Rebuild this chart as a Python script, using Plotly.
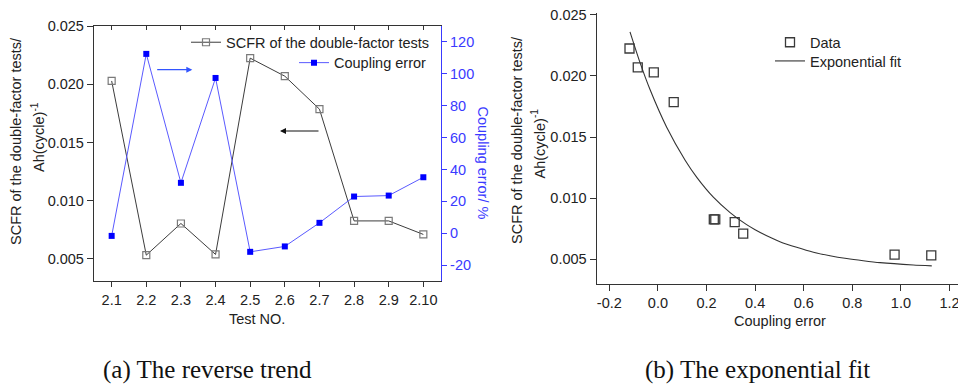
import plotly.graph_objects as go

W, H = 958, 387

# ---------------- data ----------------
test_no = ["2.1", "2.2", "2.3", "2.4", "2.5", "2.6", "2.7", "2.8", "2.9", "2.10"]
scfr = [0.02028, 0.00532, 0.00804, 0.00538, 0.02224, 0.02069, 0.01786, 0.00826, 0.00826, 0.00710]
coupling_error_pct = [-1.7, 112.5, 31.6, 97.4, -11.7, -8.3, 6.5, 23.0, 23.6, 35.1]
coupling_error_frac = [v / 100.0 for v in coupling_error_pct]

fit_x = [-0.115, -0.074, -0.033, 0.036, 0.112, 0.160, 0.228, 0.297, 0.365, 0.400,
         0.468, 0.502, 0.571, 0.640, 0.708, 0.777, 0.845, 0.914, 1.051, 1.127]
fit_y = [0.02360, 0.02110, 0.01890, 0.01580, 0.01310, 0.01170, 0.01008, 0.00882, 0.00783, 0.00742,
         0.00673, 0.00644, 0.00598, 0.00558, 0.00529, 0.00506, 0.00488, 0.00472, 0.00453, 0.00446]

scfr_ticks = [0.005, 0.010, 0.015, 0.020, 0.025]
scfr_ticktext = ["0.005", "0.010", "0.015", "0.020", "0.025"]
ce_ticks = [-20, 0, 20, 40, 60, 80, 100, 120]
ce_ticktext = ["-20", "0", "20", "40", "60", "80", "100", "120"]
cex_ticks = [-0.2, 0.0, 0.2, 0.4, 0.6, 0.8, 1.0, 1.2]
cex_ticktext = ["-0.2", "0.0", "0.2", "0.4", "0.6", "0.8", "1.0", "1.2"]


def X(px):
    return px / W


def Y(py):
    return 1 - py / H


FONT = "Arial, Liberation Sans, sans-serif"
FS = 14.5
AX = "#333333"
BLUE = "#3a3aff"

fig = go.Figure()

# ---------- left plot ----------
fig.add_trace(go.Scatter(
    x=test_no, y=scfr, mode="lines+markers", name="SCFR of the double-factor tests",
    line=dict(color="#3c3c3c", width=1),
    marker=dict(symbol="square-open", size=7, color="#7a7a7a", line=dict(width=1.2)),
    xaxis="x", yaxis="y", legend="legend", hoverinfo="skip"))
fig.add_trace(go.Scatter(
    x=test_no, y=coupling_error_pct, mode="lines+markers", name="Coupling error",
    line=dict(color="#5a5aff", width=1),
    marker=dict(symbol="square", size=6, color="#0000ff"),
    xaxis="x", yaxis="y2", legend="legend2", hoverinfo="skip"))
# dummy trace to create the top mirror axis
fig.add_trace(go.Scatter(
    x=test_no, y=scfr, mode="markers", opacity=0, showlegend=False,
    xaxis="x3", yaxis="y", hoverinfo="skip"))

# ---------- right plot ----------
fig.add_trace(go.Scatter(
    x=coupling_error_frac, y=scfr, mode="markers", name="Data",
    marker=dict(symbol="square-open", size=9, color="#3a3a3a", line=dict(width=1.3)),
    xaxis="x2", yaxis="y3", legend="legend3", hoverinfo="skip"))
fig.add_trace(go.Scatter(
    x=fit_x, y=fit_y, mode="lines", name="Exponential fit",
    line=dict(color="#333333", width=1.1, shape="spline", smoothing=0.6),
    xaxis="x2", yaxis="y3", legend="legend4", hoverinfo="skip"))

axis_common = dict(showgrid=False, zeroline=False, showline=True, linecolor=AX, linewidth=1.3,
                   tickcolor=AX, tickwidth=1.3, automargin=False, ticklabeloverflow="allow",
                   tickfont=dict(family=FONT, size=FS, color="#222"))

left_dom_x = [X(94), X(441)]
left_dom_y = [Y(281), Y(26)]
right_dom_x = [X(596.7), 1.0]
right_dom_y = [Y(283.7), Y(13.3)]

fig.update_layout(
    width=W, height=H, margin=dict(l=0, r=0, t=0, b=0, autoexpand=False),
    paper_bgcolor="white", plot_bgcolor="rgba(0,0,0,0)",
    font=dict(family=FONT, size=FS, color="#222"),
    xaxis=dict(axis_common, type="category", domain=left_dom_x, range=[-0.51, 9.51],
               anchor="y", ticks="outside", ticklen=5),
    xaxis3=dict(axis_common, type="category", domain=left_dom_x, range=[-0.51, 9.51],
                overlaying="x", anchor="y", side="top", ticks="inside", ticklen=4,
                showticklabels=False),
    yaxis=dict(axis_common, domain=left_dom_y, range=[0.0031, 0.025], anchor="x",
               tickvals=scfr_ticks, ticktext=scfr_ticktext, ticks="outside", ticklen=6),
    yaxis2=dict(axis_common, range=[-30, 130], overlaying="y", side="right", anchor="x",
                tickvals=ce_ticks, ticktext=ce_ticktext, ticks="outside", ticklen=5,
                linecolor=BLUE, tickcolor=BLUE,
                tickfont=dict(family=FONT, size=FS, color=BLUE)),
    xaxis2=dict(axis_common, domain=right_dom_x, range=[-0.252, 1.235], anchor="y3",
                tickvals=cex_ticks, ticktext=cex_ticktext, ticks="outside", ticklen=6),
    yaxis3=dict(axis_common, domain=right_dom_y, range=[0.0030, 0.02512], anchor="x2",
                tickvals=scfr_ticks, ticktext=scfr_ticktext, ticks="outside", ticklen=6),
    showlegend=True,
)

leg_common = dict(bgcolor="rgba(0,0,0,0)", borderwidth=0, font=dict(family=FONT, size=FS, color="#222"),
                  xanchor="left", yanchor="middle", itemwidth=30, tracegroupgap=0)
fig.update_layout(
    legend=dict(leg_common, x=X(186), y=Y(42.3)),
    legend2=dict(leg_common, x=X(294), y=Y(62.7)),
    legend3=dict(leg_common, x=X(770), y=Y(42.3)),
    legend4=dict(leg_common, x=X(770), y=Y(61)),
)


def label(text, px, py, angle=0, color="#222", family=FONT, size=FS):
    return dict(text=text, x=X(px), y=Y(py), xref="paper", yref="paper",
                xanchor="center", yanchor="middle", showarrow=False, textangle=angle,
                font=dict(family=family, size=size, color=color))


ann = []
# axis titles
ann.append(label("Test NO.", 256.7, 319))
ann.append(label("Coupling error", 780, 320.7))
ann.append(label("SCFR of the double-factor tests/", 16, 141, -90))
ann.append(label("Ah(cycle)<sup>-1</sup>", 38, 137, -90))
ann.append(label("Coupling error/ %", 483, 163.5, 90, color=BLUE))
ann.append(label("SCFR of the double-factor tests/", 517, 140, -90))
ann.append(label("Ah(cycle)<sup>-1</sup>", 538, 143.5, -90))
# arrows
ann.append(dict(text="", x=X(192.3), y=Y(69.7), xref="paper", yref="paper", showarrow=True,
                ax=-36.6, ay=0, arrowhead=2, arrowsize=1, arrowwidth=1.2, arrowcolor="#3355ff",
                standoff=0, startstandoff=0))
ann.append(dict(text="", x=X(280), y=Y(131), xref="paper", yref="paper", showarrow=True,
                ax=40, ay=0, arrowhead=2, arrowsize=1, arrowwidth=1.2, arrowcolor="#111",
                standoff=0, startstandoff=0))
# captions
CAP = "Liberation Serif, Times New Roman, serif"
ann.append(label("(a) The reverse trend", 207.7, 370, family=CAP, size=25, color="#111"))
ann.append(label("(b) The exponential fit", 757, 370, family=CAP, size=25, color="#111"))
fig.update_layout(annotations=ann)

fig.write_html("out.html", config={"displayModeBar": False},
               post_script="document.body.style.margin='0';")
